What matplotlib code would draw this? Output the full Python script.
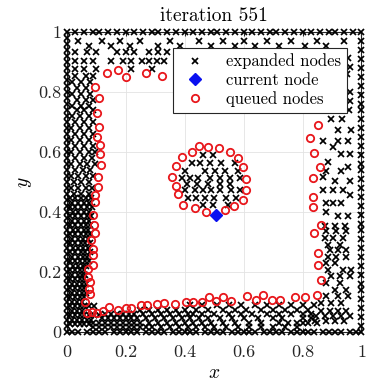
import matplotlib.pyplot as plt

plt.rcParams['font.family'] = 'cmr10'
plt.rcParams['mathtext.fontset'] = 'cm'
plt.rcParams['axes.formatter.use_mathtext'] = True

title = 'iteration 551'
tick_vals = [0, 0.2, 0.4, 0.6, 0.8, 1]
tick_labels = ['0', '0.2', '0.4', '0.6', '0.8', '1']

# expanded nodes on the four walls
top_wall_x = [0, .03, .06, .09, .11, .14, .17, .20, .23, .26, .29, .31, .34, .37, .40, .43, .46, .49,
              .51, .54, .57, .60, .63, .66, .69, .71, .74, .77, .80, .83, .86, .89, .91, .94, .97, 1.0]
bottom_wall_x = [0, .02, .04, .07, .09, .11, .13, .16, .18, .20, .22, .24, .27, .29, .31, .33, .36, .38,
                 .40, .42, .44, .47, .49, .51, .53, .56, .58, .60, .62, .64, .67, .69, .71, .73, .76, .78,
                 .80, .82, .84, .87, .89, .91, .93, .96, .98, 1.0]
left_wall_y = [.02, .04, .06, .08, .10, .12, .14, .16, .18, .20, .22, .24, .26, .28, .30, .32, .34, .36,
               .38, .40, .42, .44, .46, .48, .50, .52, .54, .56, .58, .60, .62, .64, .66, .68, .70, .72,
               .74, .76, .78, .80, .82, .84, .86, .88, .90, .92, .94, .96, .98]
right_wall_y = [.02, .05, .08, .11, .14, .16, .19, .22, .25, .28, .31, .34, .36, .39, .42, .45, .48, .51,
                .54, .56, .59, .62, .65, .68, .71, .74, .76, .79, .82, .85, .88, .91, .94, .97]

# expanded nodes inside the domain, row height -> x positions
top_band = {
    .97: [.04, .12, .18, .25, .35, .45, .53, .60, .68, .76, .85, .94],
    .955: [.075, .15, .215, .31, .385, .49, .57, .64, .72, .81, .88],
    .935: [.03, .07, .10, .17, .20, .23, .28, .31, .34],
    .905: [.03, .06, .09, .15, .19, .22, .255, .28, .305, .33],
    .878: [.03, .06, .10, .22, .29],
}
left_band = {
    .855: [.03, .065, .09],
    .835: [.02, .05, .08],
    .815: [.035, .065],
    .795: [.02, .05, .08],
    .775: [.035, .065, .09],
    .755: [.02, .05, .075],
    .74: [.035, .06, .088],
    .72: [.02, .045, .075],
    .70: [.03, .06, .09],
    .68: [.015, .045, .075],
    .66: [.03, .06, .088],
    .64: [.015, .045, .075],
    .62: [.03, .06, .09],
    .60: [.015, .045, .075, .095],
    .58: [.03, .06, .085],
    .56: [.015, .045, .07, .095],
    .54: [.03, .055, .08],
    .52: [.015, .04, .065, .09],
    .50: [.025, .05, .075],
    .48: [.015, .04, .065, .085],
    .46: [.025, .05, .075],
    .445: [.012, .03, .048, .066, .082],
    .43: [.02, .04, .058, .075],
    .415: [.012, .03, .05, .068, .085],
    .40: [.022, .04, .058, .076],
    .385: [.012, .03, .05, .068, .082],
    .37: [.02, .04, .058, .075],
    .355: [.012, .03, .05, .066, .08],
    .34: [.022, .04, .058, .074],
    .325: [.012, .03, .048, .066, .078],
    .31: [.02, .04, .056, .072],
    .295: [.012, .03, .048, .064, .08],
    .28: [.022, .04, .056, .072],
    .265: [.012, .03, .048, .064, .078],
    .25: [.02, .038, .056, .07],
    .235: [.012, .03, .046, .062, .076],
    .22: [.022, .038, .054, .066],
    .205: [.012, .03, .046, .06],
    .19: [.02, .038, .052, .064],
    .175: [.012, .028, .044, .06],
    .16: [.02, .036, .052, .066],
    .145: [.012, .028, .044, .06],
    .13: [.02, .036, .052, .066],
    .115: [.012, .028, .044, .06],
    .10: [.02, .036, .052],
    .085: [.012, .028, .044, .06, .076, .092],
    .07: [.02, .036, .052],
    .055: [.012, .028, .044, .06, .076, .092, .11],
    .04: [.02, .036, .052, .068, .084],
    .025: [.012, .028, .044, .06, .076],
}
bottom_band = {
    .088: [.42, .46, .51, .55, .59, .64, .68, .72, .76, .80, .84],
    .072: [.25, .28, .31, .34, .37, .40, .44, .48, .53, .57, .61, .66, .70, .74, .78, .82],
    .058: [.13, .15, .17, .19, .21, .23, .26, .29, .32, .35, .38, .41, .43, .46, .50, .55, .59, .63,
           .68, .72, .76, .80, .83],
    .045: [.12, .14, .16, .18, .20, .22, .24, .27, .30, .33, .36, .39, .42, .45, .48, .52, .56, .60,
           .65, .70, .73, .80, .83],
    .03: [.09, .11, .13, .15, .17, .19, .21, .23, .25, .28, .31, .34, .37, .40, .43, .46, .49, .53,
          .57, .62, .66, .72, .75, .78, .80, .82, .85],
    .015: [.09, .11, .13, .15, .17, .19, .21, .23, .25, .27, .29, .32, .35, .38, .41, .44, .47, .50,
           .54, .58, .62, .66, .70, .74, .78],
}
right_band = {
    .914: [.955],
    .885: [.96],
    .862: [.95],
    .80: [.96],
    .77: [.96],
    .74: [.958],
    .71: [.898, .935],
    .673: [.92, .966],
    .635: [.87, .921, .955],
    .615: [.904],
    .594: [.932, .96],
    .568: [.885],
    .55: [.955],
    .535: [.881, .932],
    .515: [.87],
    .502: [.909, .96],
    .474: [.87, .904, .938],
    .457: [.96],
    .429: [.881, .904, .932],
    .40: [.881],
    .385: [.921, .955],
    .352: [.876, .909, .943],
    .335: [.881, .915, .949],
    .313: [.876, .904, .938],
    .29: [.887, .926],
    .274: [.893, .921, .949],
    .251: [.887, .915, .949],
    .229: [.881, .909],
    .207: [.887, .938, .966],
    .185: [.898, .926, .96],
    .162: [.881, .926],
    .14: [.909, .949],
    .118: [.881, .921, .955],
    .096: [.864, .898, .932],
    .07: [.864, .893, .921, .949],
    .051: [.847, .876, .904, .932, .96],
    .034: [.842, .881, .909, .94],
}
obstacle_band = {
    .59: [.463, .497],
    .563: [.424, .452, .486, .525, .571],
    .537: [.40, .468, .502, .536, .581],
    .512: [.39, .418, .446, .486, .52, .554, .588],
    .493: [.407, .441, .48, .52, .554],
    .473: [.40, .435, .463, .491, .52, .559, .588],
    .445: [.41, .44, .47, .50, .54, .576],
    .423: [.463, .497, .548],
}

current_x = [0.508]
current_y = [0.39]

queued_x = [.138, .175, .203, .268, .324,
            .097, .11, .103, .11, .102, .114, .113, .117, .106, .108, .097, .097, .091, .094, .097,
            .083, .091, .091, .091, .072, .072, .08, .075, .08, .063, .068, .085, .104, .124, .144,
            .175, .201, .22, .251, .274, .305, .33, .367, .404, .427, .458, .483, .506, .529, .556,
            .612, .642, .667, .695, .723, .774, .81, .85, .864,
            .853, .853, .838, .861, .834, .836, .836, .859, .839, .827, .851,
            .449, .48, .517, .554, .582, .424, .393, .371, .356, .371, .378, .395, .435, .472, .537,
            .567, .599, .608, .608, .599]
queued_y = [.863, .874, .850, .863, .852,
            .818, .78, .73, .685, .649, .624, .594, .557, .518, .484, .457, .434, .39, .356, .33,
            .306, .276, .255, .223, .209, .184, .167, .143, .127, .10, .064, .067, .061, .07, .084,
            .072, .078, .08, .089, .089, .092, .095, .091, .10, .10, .098, .115, .103, .117, .104,
            .119, .106, .123, .106, .106, .117, .115, .123, .173,
            .223, .262, .329, .356, .415, .451, .512, .551, .596, .646, .69,
            .62, .618, .613, .601, .579, .601, .582, .553, .516, .487, .46, .423, .412, .401, .406,
            .42, .44, .473, .509, .549]


def flatten(rows):
    xs, ys = [], []
    for y, row in rows.items():
        xs += row
        ys += [y] * len(row)
    return xs, ys


exp_x = top_wall_x + bottom_wall_x + [0] * len(left_wall_y) + [1.0] * len(right_wall_y)
exp_y = [1.0] * len(top_wall_x) + [0] * len(bottom_wall_x) + left_wall_y + right_wall_y
for band in [top_band, left_band, bottom_band, right_band, obstacle_band]:
    bx, by = flatten(band)
    exp_x += bx
    exp_y += by

fig = plt.figure(figsize=(3.7, 3.83), dpi=100)
ax = fig.add_axes([0.18, 0.134, 0.797, 0.782])

h_exp, = ax.plot(exp_x, exp_y, 'x', color='black', markersize=3.7, markeredgewidth=1.25,
                 clip_on=False, zorder=3)
h_que, = ax.plot(queued_x, queued_y, 'o', color='none', markeredgecolor='#e8161b', markersize=5.3,
                 markeredgewidth=1.3, clip_on=False, zorder=4)
h_cur, = ax.plot(current_x, current_y, 'D', color='#0a10f0', markersize=5.8, zorder=5)

ax.set_xlim(0, 1)
ax.set_ylim(0, 1)
ax.set_xticks(tick_vals)
ax.set_xticklabels(tick_labels)
ax.set_yticks(tick_vals)
ax.set_yticklabels(tick_labels)
ax.tick_params(direction='in', length=3, top=True, right=True, labelsize=13, colors='#262626')
ax.tick_params(axis='x', pad=9)
ax.tick_params(axis='y', pad=4)
ax.grid(True, color='#e3e3e3', linewidth=0.6)
ax.set_axisbelow(True)
for s in ax.spines.values():
    s.set_color('#262626')
    s.set_linewidth(0.8)

ax.set_xlabel('$x$', fontsize=14, labelpad=3)
ax.set_ylabel('$y$', fontsize=14, labelpad=3)
ax.set_title(title, fontsize=14, pad=8)

leg = ax.legend([h_exp, h_cur, h_que], ['expanded nodes', 'current node', 'queued nodes'],
                loc='upper right', bbox_to_anchor=(0.95, 0.948), borderaxespad=0, fontsize=12,
                fancybox=False, framealpha=1, edgecolor='#262626', handlelength=1.9,
                handletextpad=0.9, labelspacing=0.2, borderpad=0.35)
leg.get_frame().set_linewidth(0.8)
leg.set_zorder(10)

plt.savefig('out.png', dpi=100)
